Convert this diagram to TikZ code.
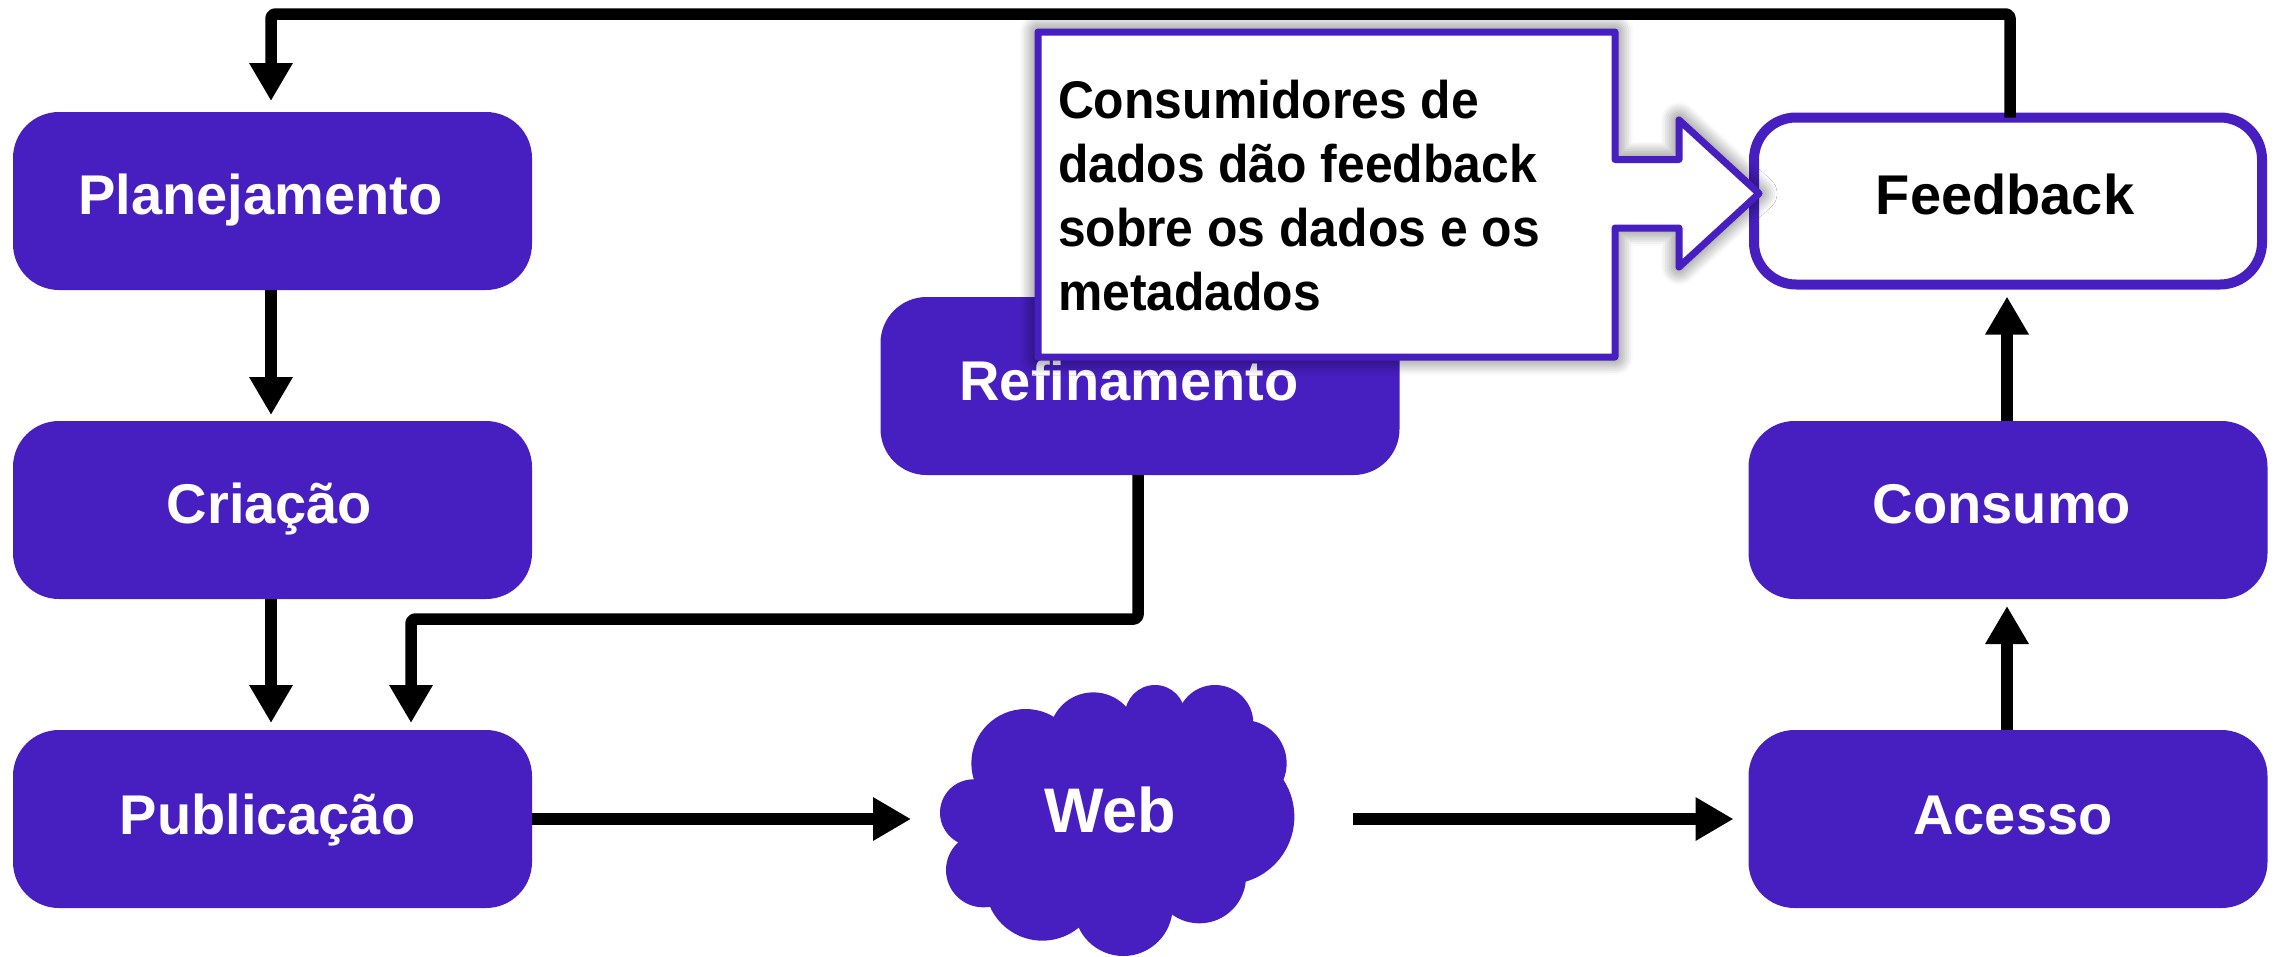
\documentclass[tikz,border=0pt]{standalone}
\usepackage{fontspec}
\setmainfont{Liberation Sans}
\newfontfamily\notefont[FakeStretch=0.94]{Liberation Sans}
\usetikzlibrary{arrows.meta,shadows.blur}
\definecolor{brand}{HTML}{471EC0}
\newcommand{\lbl}[3]{\makebox[0pt][c]{\hspace*{#1pt}\raisebox{#2pt}[0pt][0pt]{#3}\hspace*{-#1pt}}}
\tikzset{
  x=1pt,y=-1pt,
  stage/.style={draw=none,fill=brand,text=white,rounded corners=46pt,minimum width=519pt,minimum height=178pt,inner sep=0pt,outer sep=0pt,font=\bfseries\fontsize{56}{60}\selectfont},
  stageopen/.style={stage,draw=brand,fill=white,text=black,line width=10pt,minimum width=508pt,minimum height=167pt,rounded corners=42pt},
  flow/.style={draw=black,line width=11.5pt,rounded corners=4pt,line join=round,-{Triangle[length=38pt,width=41pt]}},
}
\begin{document}
\begin{tikzpicture}
\useasboundingbox (0,0) rectangle (2274,956);
\node[stage] (plan) at (272.5,201) {\lbl{-12}{-13}{Planejamento}};
\node[stage] (cria) at (272.5,510) {\lbl{-3}{-13}{Criação}};
\node[stage] (publ) at (272.5,819) {\lbl{-5}{-15}{Publicação}};
\node[stage] (refi) at (1140,386) {\lbl{-11}{-14}{Refinamento}};
\node[stage] (cons) at (2008,510) {\lbl{-6}{-13}{Consumo}};
\node[stage] (aces) at (2008,819) {\lbl{5}{-15}{Acesso}};
\node[stageopen] (feed) at (2008,201) {\lbl{-3}{-13}{Feedback}};
% cloud
\begin{scope}[shift={(880,640)},scale=1/3,fill=brand]
\fill (437,370) circle (163);
\fill (640,290) circle (133);
\fill (825,225) circle (90);
\fill (1005,250) circle (115);
\fill (1090,370) circle (130);
\fill (1040,530) circle (203);
\fill (958,710) circle (140);
\fill (730,800) circle (148);
\fill (487,730) circle (172);
\fill (310,690) circle (112);
\fill (280,518) circle (100);
\fill (300,400) -- (700,250) -- (1100,300) -- (1100,700) -- (700,800) -- (320,780) -- cycle;
\end{scope}
\node[inner sep=0pt,outer sep=0pt,minimum width=354pt,minimum height=271pt,text=white,font=\bfseries\fontsize{63}{66}\selectfont] (web) at (1117,819) {\lbl{-7}{-13}{Web}};
% connectors
\coordinate (topL) at (271,14);
\coordinate (topR) at (2010,14);
\coordinate (refL) at (411,619);
\coordinate (refR) at (1138,619);
\draw[flow,shorten >=11pt] ([xshift=2pt]feed.north) -- (topR) -- (topL) -- ([xshift=-1.5pt]plan.north);
\draw[flow,shorten >=6pt] ([xshift=-1.5pt]plan.south) -- ([xshift=-1.5pt]cria.north);
\draw[flow,shorten >=7pt] ([xshift=-1.5pt]cria.south) -- ([xshift=-1.5pt]publ.north);
\draw[flow,shorten >=7pt] (refR |- refi.south) -- (refR) -- (refL) -- (refL |- publ.north);
\draw[flow,shorten >=29pt] (publ.east) -- (web.west);
\draw[flow,shorten <=59pt,shorten >=15pt] (web.east) -- (aces.west);
\draw[flow,shorten >=7pt] ([xshift=-1pt]aces.north) -- ([xshift=-1pt]cons.south);
\draw[flow,shorten >=7pt] ([xshift=-1pt]cons.north) -- ([xshift=-1pt,yshift=-5pt]feed.south);
% callout
\path[draw=brand,fill=white,line width=7pt,line join=round,blur shadow={shadow xshift=0pt,shadow yshift=0pt,shadow blur steps=10,shadow blur radius=18pt,shadow opacity=75}]
 (1038,32) -- (1615,32) -- (1615,159.5) -- (1679,159.5) -- (1679,120) -- (1759,193.5) -- (1679,267) -- (1679,228) -- (1615,228) -- (1615,357) -- (1038,357) -- cycle;
\node[anchor=north west,inner sep=0pt,outer sep=0pt,align=left,text=black,font=\notefont\bfseries\fontsize{53}{64}\selectfont] (note) at (1058,80)
 {Consumidores de\\dados dão feedback\\sobre os dados e os\\metadados};
\end{tikzpicture}
\end{document}
